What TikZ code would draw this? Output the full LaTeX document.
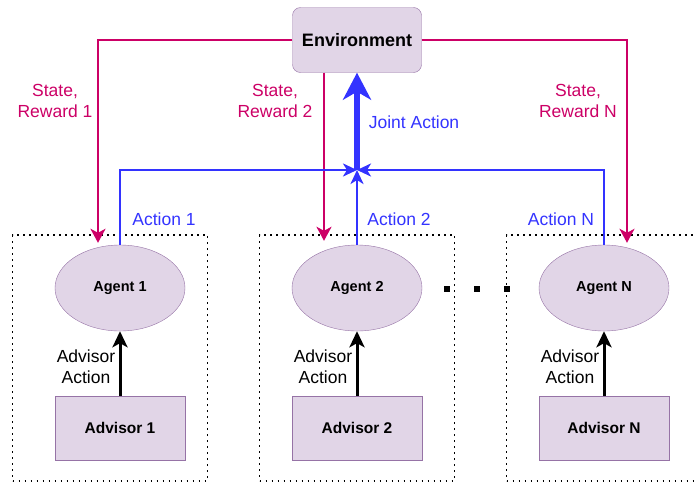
\documentclass[tikz,border=0pt]{standalone}
\usepackage{fontspec}
\setmainfont{Liberation Sans}
\usetikzlibrary{arrows.meta,shapes.geometric}
\definecolor{nodefill}{HTML}{E1D5E7}
\definecolor{nodeline}{HTML}{9673A6}
\definecolor{statecol}{HTML}{CC0066}
\definecolor{actcol}{HTML}{3333FF}
\tikzset{
	env/.style={draw=nodeline, fill=nodefill, rounded corners=8pt, minimum width=129pt, minimum height=65pt, font=\fontsize{18}{21}\selectfont\bfseries},
	agent/.style={ellipse, draw=nodeline, fill=nodefill, minimum width=130pt, minimum height=86pt, inner sep=0pt, font=\fontsize{14.5}{17}\selectfont\bfseries},
	advisor/.style={draw=nodeline, fill=nodefill, minimum width=130pt, minimum height=64pt, font=\fontsize{15.5}{18}\selectfont\bfseries},
	group/.style={draw, line width=1.8pt, dash pattern=on 1.8pt off 4.2pt, minimum width=195pt, minimum height=246pt},
	lbl/.style={align=center, font=\fontsize{17.5}{21}\selectfont},
	state/.style={draw=statecol, line width=2.6pt, -{Stealth[length=14pt, width=15pt, inset=4pt]}},
	act/.style={draw=actcol, line width=2.6pt, -{Stealth[length=14pt, width=13pt, inset=4pt]}},
	joint/.style={draw=actcol, line width=5.5pt, -{Stealth[length=27pt, width=28pt, inset=8pt]}},
	adv/.style={draw=black, line width=3pt, -{Stealth[length=16pt, width=15pt, inset=4pt]}},
	sq/.style={fill=black, minimum size=6.5pt, inner sep=0pt}
}
\begin{document}
\begin{tikzpicture}[x=1pt, y=-1pt]
	\useasboundingbox (0,0) rectangle (695,482);
	\clip (0,0) rectangle (695,482);
	\node[group] (G1) at (110,358) {};
	\node[group] (G2) at (357,358) {};
	\node[group] (GN) at (604,358) {};
	\node[env] (Env) at (357,40) {Environment};
	\node[agent] (A1) at (120,288) {Agent 1};
	\node[agent] (A2) at (357,288) {Agent 2};
	\node[agent] (AN) at (604,288) {Agent N};
	\node[advisor] (Ad1) at (120,428) {Advisor 1};
	\node[advisor] (Ad2) at (357,428) {Advisor 2};
	\node[advisor] (AdN) at (604,428) {Advisor N};
	\coordinate (J) at (357,170);
	\foreach \i/\x in {1/447, 2/477, 3/507}
		\node[sq] (D\i) at (\x,289) {};
	\draw [state] (Env.west) -| ([xshift=-22pt, yshift=2pt]A1.north);
	\draw [state] ([xshift=-33pt]Env.south) -- ([xshift=-33pt, yshift=4pt]A2.north);
	\draw [state] (Env.east) -| ([xshift=23pt, yshift=2pt]AN.north);
	\node[lbl, text=statecol] (S1) at (55,101) {State,\\Reward 1};
	\node[lbl, text=statecol] (S2) at (275,101) {State,\\Reward 2};
	\node[lbl, text=statecol] (SN) at (578,101) {State,\\Reward N};
	\draw [act] (A1.north) |- (J);
	\draw [act] (AN.north) |- (J);
	\draw [act] (A2.north) -- (J);
	\draw [joint] (J) -- (Env.south);
	\node[lbl, text=actcol] (L1) at (164,219) {Action 1};
	\node[lbl, text=actcol] (L2) at (399,219) {Action 2};
	\node[lbl, text=actcol] (LN) at (561,219) {Action N};
	\node[lbl, text=actcol] (LJ) at (414,122) {Joint Action};
	\draw [adv] (Ad1) -- node [lbl, left, pos=0.45] {Advisor\\Action} (A1);
	\draw [adv] (Ad2) -- node [lbl, left, pos=0.45] {Advisor\\Action} (A2);
	\draw [adv] (AdN) -- node [lbl, left, pos=0.45] {Advisor\\Action} (AN);
\end{tikzpicture}
\end{document}
